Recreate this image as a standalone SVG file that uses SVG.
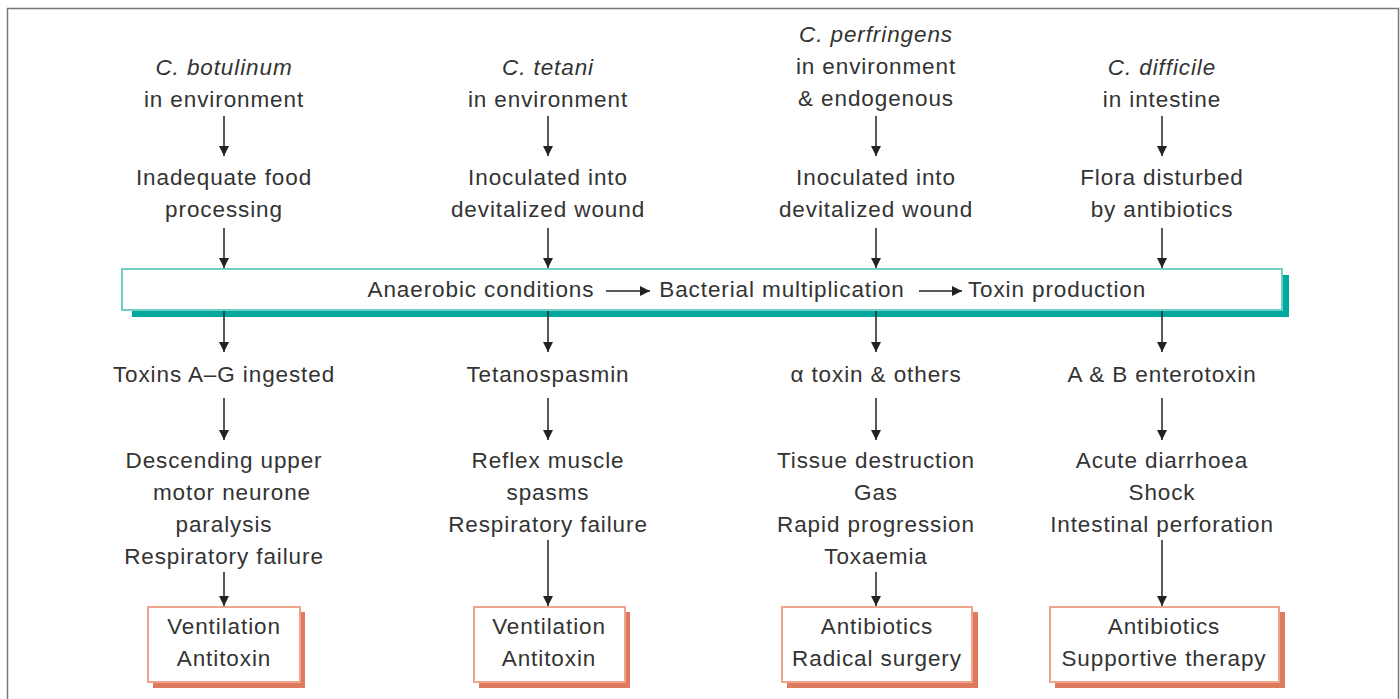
<svg xmlns="http://www.w3.org/2000/svg" width="1400" height="699" viewBox="0 0 1400 699">
<defs>
<marker id="ah" viewBox="0 0 10 10" refX="10" refY="5" markerWidth="10" markerHeight="10" markerUnits="userSpaceOnUse" orient="auto">
<path d="M0,0 L10,5 L0,10 z" fill="#222"/>
</marker>
<style>
text{font-family:"Liberation Sans",Arial,sans-serif;font-size:22.5px;letter-spacing:0.9px;fill:#333;text-anchor:middle}
.it{font-style:italic}
.c line{stroke:#222;stroke-width:1.5}
.tb{fill:#fff;stroke:#6fcfc4;stroke-width:2}
.ts{fill:#00a99d}
.ob{fill:#fff;stroke:#f0a48c;stroke-width:2}
.os{fill:#e07a5f}
</style>
</defs>
<rect x="0" y="0" width="1400" height="699" fill="#fff"/>
<rect x="7.5" y="8.5" width="1391" height="700" fill="none" stroke="#777" stroke-width="1.5"/>

<g id="n-botulinum"><text x="224" y="75" class="it">C. botulinum</text><text x="224" y="107">in environment</text></g>
<g id="n-tetani"><text x="548" y="75" class="it">C. tetani</text><text x="548" y="107">in environment</text></g>
<g id="n-perfringens"><text x="876" y="42" class="it">C. perfringens</text><text x="876" y="74">in environment</text><text x="876" y="106">&amp; endogenous</text></g>
<g id="n-difficile"><text x="1162" y="75" class="it">C. difficile</text><text x="1162" y="107">in intestine</text></g>

<g id="n-food"><text x="224" y="185">Inadequate food</text><text x="224" y="217">processing</text></g>
<g id="n-wound1"><text x="548" y="185">Inoculated into</text><text x="548" y="217">devitalized wound</text></g>
<g id="n-wound2"><text x="876" y="185">Inoculated into</text><text x="876" y="217">devitalized wound</text></g>
<g id="n-flora"><text x="1162" y="185">Flora disturbed</text><text x="1162" y="217">by antibiotics</text></g>

<g id="n-band">
<rect class="ts" x="132" y="275" width="1157" height="42"/>
<rect class="tb" x="122" y="269" width="1160" height="41"/>
<text x="481" y="297">Anaerobic conditions</text>
<text x="782" y="297">Bacterial multiplication</text>
<text x="1057" y="297">Toxin production</text>
</g>

<g id="n-toxAG"><text x="224" y="382">Toxins A–G ingested</text></g>
<g id="n-tetanospasmin"><text x="548" y="382">Tetanospasmin</text></g>
<g id="n-alpha"><text x="876" y="382">α toxin &amp; others</text></g>
<g id="n-entero"><text x="1162" y="382">A &amp; B enterotoxin</text></g>

<g id="n-eff1"><text x="224" y="468">Descending upper</text><text x="232" y="500">motor neurone</text><text x="224" y="532">paralysis</text><text x="224" y="564">Respiratory failure</text></g>
<g id="n-eff2"><text x="548" y="468">Reflex muscle</text><text x="548" y="500">spasms</text><text x="548" y="532">Respiratory failure</text></g>
<g id="n-eff3"><text x="876" y="468">Tissue destruction</text><text x="876" y="500">Gas</text><text x="876" y="532">Rapid progression</text><text x="876" y="564">Toxaemia</text></g>
<g id="n-eff4"><text x="1162" y="468">Acute diarrhoea</text><text x="1162" y="500">Shock</text><text x="1162" y="532">Intestinal perforation</text></g>

<g id="n-tx1"><rect class="os" x="153" y="612" width="152" height="76"/><rect class="ob" x="148" y="607" width="152" height="75"/><text x="224" y="634">Ventilation</text><text x="224" y="666">Antitoxin</text></g>
<g id="n-tx2"><rect class="os" x="479" y="612" width="151" height="76"/><rect class="ob" x="474" y="607" width="151" height="75"/><text x="549" y="634">Ventilation</text><text x="549" y="666">Antitoxin</text></g>
<g id="n-tx3"><rect class="os" x="787" y="612" width="191" height="76"/><rect class="ob" x="782" y="607" width="190" height="75"/><text x="877" y="634">Antibiotics</text><text x="877" y="666">Radical surgery</text></g>
<g id="n-tx4"><rect class="os" x="1055" y="612" width="230" height="76"/><rect class="ob" x="1050" y="607" width="229" height="75"/><text x="1164" y="634">Antibiotics</text><text x="1164" y="666">Supportive therapy</text></g>

<g id="connectors" class="c">
<line x1="224" y1="116" x2="224" y2="156" marker-end="url(#ah)"/>
<line x1="548" y1="116" x2="548" y2="156" marker-end="url(#ah)"/>
<line x1="876" y1="116" x2="876" y2="156" marker-end="url(#ah)"/>
<line x1="1162" y1="116" x2="1162" y2="156" marker-end="url(#ah)"/>
<line x1="224" y1="228" x2="224" y2="268" marker-end="url(#ah)"/>
<line x1="548" y1="228" x2="548" y2="268" marker-end="url(#ah)"/>
<line x1="876" y1="228" x2="876" y2="268" marker-end="url(#ah)"/>
<line x1="1162" y1="228" x2="1162" y2="268" marker-end="url(#ah)"/>
<line x1="224" y1="311" x2="224" y2="352" marker-end="url(#ah)"/>
<line x1="548" y1="311" x2="548" y2="352" marker-end="url(#ah)"/>
<line x1="876" y1="311" x2="876" y2="352" marker-end="url(#ah)"/>
<line x1="1162" y1="311" x2="1162" y2="352" marker-end="url(#ah)"/>
<line x1="224" y1="398" x2="224" y2="440" marker-end="url(#ah)"/>
<line x1="548" y1="398" x2="548" y2="440" marker-end="url(#ah)"/>
<line x1="876" y1="398" x2="876" y2="440" marker-end="url(#ah)"/>
<line x1="1162" y1="398" x2="1162" y2="440" marker-end="url(#ah)"/>
<line x1="224" y1="572" x2="224" y2="606" marker-end="url(#ah)"/>
<line x1="548" y1="540" x2="548" y2="606" marker-end="url(#ah)"/>
<line x1="876" y1="572" x2="876" y2="606" marker-end="url(#ah)"/>
<line x1="1162" y1="540" x2="1162" y2="606" marker-end="url(#ah)"/>
<line x1="606" y1="291" x2="650" y2="291" marker-end="url(#ah)"/>
<line x1="919" y1="291" x2="962" y2="291" marker-end="url(#ah)"/>
</g>
</svg>
